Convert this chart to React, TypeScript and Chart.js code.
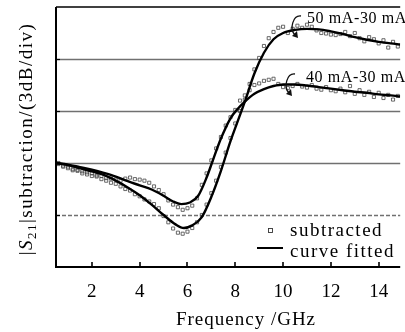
import React, { useEffect, useRef } from "react";
import { Chart, registerables } from "chart.js";

Chart.register(...registerables);

// ---- data ----
const freq = [0.6, 0.8, 1.0, 1.2, 1.4, 1.6, 1.8, 2.0, 2.2, 2.4, 2.6, 2.8, 3.0, 3.2, 3.4, 3.6, 3.8, 4.0, 4.2, 4.4, 4.6, 4.8, 5.0, 5.2, 5.4, 5.6, 5.8, 6.0, 6.2, 6.4, 6.6, 6.8, 7.0, 7.2, 7.4, 7.6, 7.8, 8.0, 8.2, 8.4, 8.6, 8.8, 9.0, 9.2, 9.4, 9.6, 9.8, 10.0, 10.2, 10.4, 10.6, 10.8, 11.0, 11.2, 11.4, 11.6, 11.8, 12.0, 12.2, 12.4, 12.6, 12.8, 13.0, 13.2, 13.4, 13.6, 13.8, 14.0, 14.2, 14.4, 14.6, 14.8];

const sub50 = [1.98, 1.93, 1.90, 1.86, 1.85, 1.80, 1.78, 1.75, 1.74, 1.69, 1.66, 1.62, 1.60, 1.55, 1.50, 1.47, 1.40, 1.36, 1.30, 1.26, 1.21, 1.13, 0.98, 0.86, 0.74, 0.66, 0.64, 0.68, 0.75, 0.86, 1.00, 1.20, 1.42, 1.66, 1.92, 2.20, 2.48, 2.76, 3.00, 3.22, 3.52, 3.80, 4.02, 4.25, 4.40, 4.52, 4.60, 4.62, 4.50, 4.58, 4.64, 4.60, 4.66, 4.62, 4.55, 4.50, 4.49, 4.47, 4.46, 4.48, 4.52, 4.44, 4.50, 4.40, 4.34, 4.42, 4.38, 4.30, 4.36, 4.22, 4.33, 4.24];

const sub40 = [2.00, 1.95, 1.93, 1.88, 1.87, 1.84, 1.82, 1.80, 1.76, 1.75, 1.71, 1.70, 1.68, 1.66, 1.70, 1.72, 1.69, 1.68, 1.66, 1.62, 1.55, 1.48, 1.40, 1.28, 1.20, 1.15, 1.10, 1.13, 1.18, 1.32, 1.58, 1.80, 2.05, 2.28, 2.50, 2.72, 2.88, 3.02, 3.20, 3.30, 3.40, 3.50, 3.53, 3.58, 3.60, 3.62, 3.52, 3.46, 3.44, 3.48, 3.52, 3.47, 3.45, 3.50, 3.43, 3.41, 3.46, 3.40, 3.38, 3.43, 3.36, 3.48, 3.33, 3.40, 3.31, 3.37, 3.27, 3.35, 3.25, 3.31, 3.22, 3.29];

const fitX50 = [0.5, 1, 1.5, 2, 2.5, 3, 3.5, 4, 4.5, 5, 5.5, 5.85, 6.2, 6.6, 7, 7.4, 7.8, 8.1, 8.4, 8.8, 9.2, 9.6, 10, 10.5, 11, 11.5, 12, 12.5, 13, 13.5, 14, 14.5, 14.9];
const fitY50 = [2.0, 1.96, 1.90, 1.84, 1.77, 1.66, 1.53, 1.38, 1.20, 1.00, 0.82, 0.75, 0.80, 0.96, 1.35, 1.85, 2.42, 2.80, 3.18, 3.72, 4.12, 4.38, 4.50, 4.56, 4.58, 4.57, 4.53, 4.48, 4.42, 4.37, 4.33, 4.30, 4.28];

const fitX40 = [0.5, 1, 1.5, 2, 2.5, 3, 3.5, 4, 4.5, 5, 5.4, 5.75, 6.1, 6.45, 6.8, 7.1, 7.4, 7.8, 8.1, 8.4, 8.8, 9.2, 9.6, 10, 10.5, 11, 11.5, 12, 12.5, 13, 13.5, 14, 14.5, 14.9];
const fitY40 = [2.0, 1.97, 1.92, 1.87, 1.81, 1.74, 1.65, 1.57, 1.49, 1.37, 1.26, 1.21, 1.24, 1.37, 1.72, 2.10, 2.47, 2.86, 3.04, 3.18, 3.33, 3.42, 3.48, 3.51, 3.51, 3.49, 3.46, 3.43, 3.40, 3.37, 3.35, 3.32, 3.30, 3.28];

const xTicks = [2, 4, 6, 8, 10, 12, 14];
const gridLevels = [1, 2, 3, 4];
const X_MIN = 0.5;
const X_MAX = 14.9;
const Y_MIN = 0;
const Y_MAX = 5;

const seriesLabels = ["50 mA-30 mA", "40 mA-30 mA"];
const legendLabels = ["subtracted", "curve fitted"];
const xTitle = "Frequency /GHz";
const yTitleParts = ["|", "S", "21", "|subtraction/(3dB/div)"];

const FONT = '"Liberation Serif", "Times New Roman", serif';

function drawCurl(ctx: CanvasRenderingContext2D, x: number, y: number) {
  // curved pointer next to a series label, (x, y) = top end
  ctx.save();
  ctx.strokeStyle = "#111";
  ctx.fillStyle = "#111";
  ctx.lineWidth = 1.3;
  ctx.beginPath();
  ctx.moveTo(x + 5, y);
  ctx.bezierCurveTo(x - 3, y - 1, x - 7, y + 13, x - 1, y + 19);
  ctx.stroke();
  ctx.beginPath();
  ctx.moveTo(x + 2, y + 22);
  ctx.lineTo(x - 4, y + 20);
  ctx.lineTo(x + 1, y + 15);
  ctx.closePath();
  ctx.fill();
  ctx.restore();
}

export default function App() {
  const ref = useRef<HTMLCanvasElement>(null);

  useEffect(() => {
    if (!ref.current) return;

    const deco = {
      id: "deco",
      beforeDatasetsDraw(chart: any) {
        const { ctx, chartArea: a, scales } = chart;
        const y = scales.y;
        ctx.save();
        gridLevels.forEach((v) => {
          const py = Math.round(y.getPixelForValue(v)) + 0.5;
          ctx.strokeStyle = "#707070";
          ctx.lineWidth = 1.3;
          ctx.setLineDash(v === 1 ? [4, 2] : []);
          ctx.beginPath();
          ctx.moveTo(a.left, py);
          ctx.lineTo(a.right, py);
          ctx.stroke();
        });
        ctx.restore();
      },
      afterDraw(chart: any) {
        const { ctx, chartArea: a, scales } = chart;
        const x = scales.x;
        const y = scales.y;
        ctx.save();
        ctx.strokeStyle = "#000";
        ctx.lineWidth = 2;
        ctx.beginPath();
        ctx.moveTo(a.left, a.top);
        ctx.lineTo(a.left, a.bottom);
        ctx.lineTo(a.right, a.bottom);
        ctx.stroke();
        ctx.lineWidth = 1.5;
        ctx.beginPath();
        ctx.moveTo(a.left, a.top);
        ctx.lineTo(a.right, a.top);
        ctx.stroke();
        ctx.lineWidth = 1.6;
        xTicks.forEach((v) => {
          const px = Math.round(x.getPixelForValue(v));
          ctx.beginPath();
          ctx.moveTo(px, a.bottom);
          ctx.lineTo(px, a.bottom - 5);
          ctx.stroke();
        });
        ctx.lineWidth = 1.2;
        gridLevels.forEach((v) => {
          const py = Math.round(y.getPixelForValue(v)) + 0.5;
          ctx.beginPath();
          ctx.moveTo(a.left, py);
          ctx.lineTo(a.left + 4, py);
          ctx.stroke();
        });

        ctx.fillStyle = "#000";
        (ctx as any).letterSpacing = "1px";
        ctx.font = `19px ${FONT}`;
        ctx.textAlign = "center";
        ctx.textBaseline = "middle";
        ctx.fillText(xTitle, 246, 320);

        ctx.save();
        ctx.translate(26, 139);
        ctx.rotate(-Math.PI / 2);
        ctx.textAlign = "left";
        ctx.textBaseline = "alphabetic";
        (ctx as any).letterSpacing = "1.5px";
        const fonts = [`19px ${FONT}`, `italic 19px ${FONT}`, `13px ${FONT}`, `19px ${FONT}`];
        const dys = [0, 0, 4, 0];
        const widths = yTitleParts.map((t, i) => {
          ctx.font = fonts[i];
          return ctx.measureText(t).width;
        });
        const total = widths.reduce((s, w) => s + w, 0);
        let cx = -total / 2;
        yTitleParts.forEach((t, i) => {
          ctx.font = fonts[i];
          ctx.fillText(t, cx, 6 + dys[i]);
          cx += widths[i];
        });
        ctx.restore();

        ctx.textAlign = "left";
        ctx.textBaseline = "alphabetic";
        (ctx as any).letterSpacing = "0.6px";
        ctx.font = `16px ${FONT}`;
        ctx.fillText(seriesLabels[0], 307, 23);
        ctx.fillText(seriesLabels[1], 306, 82);
        drawCurl(ctx, 296, 16);
        drawCurl(ctx, 290, 74);

        (ctx as any).letterSpacing = "1.5px";
        ctx.font = `19px ${FONT}`;
        ctx.strokeStyle = "#333";
        ctx.lineWidth = 0.9;
        ctx.strokeRect(268.5, 228.5, 4, 4);
        ctx.fillText(legendLabels[0], 290, 236);
        ctx.strokeStyle = "#000";
        ctx.lineWidth = 2;
        ctx.beginPath();
        ctx.moveTo(257, 248);
        ctx.lineTo(283, 248);
        ctx.stroke();
        ctx.fillText(legendLabels[1], 290, 257);
        (ctx as any).letterSpacing = "0px";
        ctx.restore();
      },
    };

    const scatterStyle = {
      type: "scatter" as const,
      showLine: false,
      pointStyle: "rect",
      pointRadius: 2.2,
      borderColor: "#444",
      backgroundColor: "rgba(255,255,255,0)",
      borderWidth: 0.8,
      order: 2,
    };
    const lineStyle = {
      type: "line" as const,
      showLine: true,
      borderColor: "#000",
      borderWidth: 2.4,
      pointRadius: 0,
      fill: false,
      cubicInterpolationMode: "monotone" as const,
      order: 1,
    };

    const chart = new Chart(ref.current, {
      type: "scatter",
      data: {
        datasets: [
          { ...scatterStyle, label: "sub 50", data: freq.map((f, i) => ({ x: f, y: sub50[i] })) },
          { ...scatterStyle, label: "sub 40", data: freq.map((f, i) => ({ x: f, y: sub40[i] })) },
          { ...lineStyle, label: "fit 50", data: fitX50.map((f, i) => ({ x: f, y: fitY50[i] })) },
          { ...lineStyle, label: "fit 40", data: fitX40.map((f, i) => ({ x: f, y: fitY40[i] })) },
        ] as any,
      },
      options: {
        animation: false,
        responsive: false,
        layout: { padding: { left: 56, top: 7, right: 0, bottom: 0 } },
        plugins: { legend: { display: false }, tooltip: { enabled: false } },
        scales: {
          x: {
            type: "linear",
            min: X_MIN,
            max: X_MAX,
            grid: { display: false },
            border: { display: false },
            ticks: {
              color: "#000",
              font: { family: FONT, size: 19 },
              padding: 6,
              autoSkip: false,
              maxRotation: 0,
              callback: (v: any) => String(v),
            },
            afterBuildTicks: (s: any) => {
              s.ticks = xTicks.map((v) => ({ value: v }));
            },
            afterFit: (s: any) => {
              s.height = 65;
            },
          },
          y: {
            type: "linear",
            min: Y_MIN,
            max: Y_MAX,
            display: false,
          },
        },
      },
      plugins: [deco],
    });
    return () => chart.destroy();
  }, []);

  return (
    <div style={{ position: "absolute", left: 0, top: 0, width: 405, height: 332, background: "#fff" }}>
      <canvas ref={ref} width={405} height={332} style={{ display: "block" }} />
    </div>
  );
}
